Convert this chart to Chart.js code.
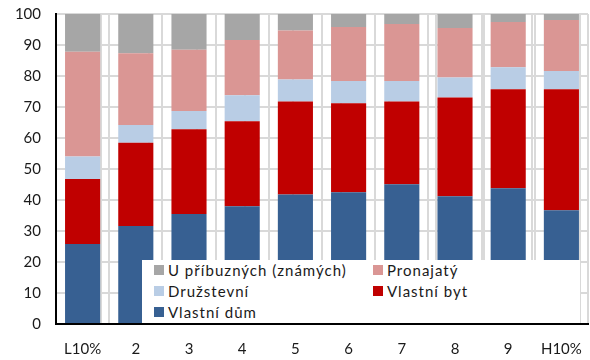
<!DOCTYPE html>
<html>
<head>
<meta charset="utf-8">
<script src="https://cdn.jsdelivr.net/npm/chart.js@4"></script>
<style>
  body { margin: 0; background: #fff; }
  #wrap { position: relative; width: 590px; height: 360px; }
  #legend {
    position: absolute; left: 142px; top: 260px; width: 438px; height: 63px;
    background: #fff; font-family: Lato, "Open Sans", sans-serif; font-size: 15px;
    color: #1a1a1a; letter-spacing: 1px;
  }
  .item { position: absolute; display: flex; align-items: center; height: 20px; white-space: nowrap; }
  .box { width: 10px; height: 10px; margin-right: 4px; }
</style>
</head>
<body>
<div id="wrap">
  <canvas id="chart" width="590" height="360"></canvas>
  <div id="legend"></div>
</div>
<script>
const categories = ["L10%", "2", "3", "4", "5", "6", "7", "8", "9", "H10%"];
const seriesNames = ["Vlastní dům", "Vlastní byt", "Družstevní", "Pronajatý", "U příbuzných (známých)"];
const seriesColors = ["#376092", "#c00000", "#b9cde5", "#da9694", "#a6a6a6"];

const vlastniDum   = [25.8, 31.6, 35.5, 38.0, 41.8, 42.5, 45.1, 41.2, 43.8, 36.7];
const vlastniByt   = [21.0, 26.9, 27.3, 27.4, 30.0, 28.7, 26.7, 31.9, 31.9, 39.0];
const druzstevni   = [7.2, 5.7, 5.9, 8.4, 7.1, 7.2, 6.6, 6.4, 7.1, 5.9];
const pronajaty    = [33.8, 23.1, 19.8, 17.8, 15.8, 17.4, 18.4, 16.0, 14.6, 16.5];
const uPribuznych  = [12.2, 12.7, 11.5, 8.4, 5.3, 4.2, 3.2, 4.5, 2.6, 1.9];

const yTicks = [0, 10, 20, 30, 40, 50, 60, 70, 80, 90, 100];

const seriesValues = [vlastniDum, vlastniByt, druzstevni, pronajaty, uPribuznych];
const gridColor = "#d9d9d9";
const tickFont = { family: "Lato, 'Open Sans', sans-serif", size: 15 };

// fixed scale sizes so the plot area sits where it does in the original
function fitScale(size, isHeight) {
    return s => {
        if (isHeight) s.height = size; else s.width = size;
        s.paddingTop = 0;
        s.paddingBottom = 0;
        s.paddingLeft = 0;
        s.paddingRight = 0;
    };
}

const chart = new Chart(document.getElementById("chart"), {
    type: "bar",
    data: {
        labels: categories,
        datasets: seriesNames.map((name, i) => ({
            label: name,
            data: seriesValues[i],
            backgroundColor: seriesColors[i],
            borderWidth: 0,
            barPercentage: 0.66,
            categoryPercentage: 1
        }))
    },
    options: {
        responsive: false,
        animation: false,
        layout: { padding: { top: 14, right: 2, left: 0, bottom: 0 } },
        plugins: { legend: { display: false }, tooltip: { enabled: false } },
        scales: {
            x: {
                stacked: true,
                grid: { color: gridColor, lineWidth: 2, drawTicks: false },
                border: { color: "#000", width: 2 },
                ticks: { font: tickFont, color: "#1a1a1a", padding: 16 },
                afterFit: fitScale(36, true)
            },
            // second set of vertical lines just left of each category boundary
            x2: {
                type: "linear",
                position: "bottom",
                min: 0.11,
                max: 10.11,
                afterBuildTicks: s => { s.ticks = categories.map((c, i) => ({ value: i + 1 })); },
                grid: { color: gridColor, lineWidth: 2, drawTicks: false },
                border: { display: false },
                ticks: { display: false },
                afterFit: fitScale(0, true)
            },
            y: {
                stacked: true,
                min: 0,
                max: 100,
                afterBuildTicks: s => { s.ticks = yTicks.map(v => ({ value: v })); },
                grid: { color: gridColor, lineWidth: 2, drawTicks: false },
                border: { color: "#000", width: 2 },
                ticks: { font: tickFont, color: "#1a1a1a", padding: 15 },
                afterFit: fitScale(56, false)
            }
        }
    }
});

// legend inside the plot, two columns, top series first
const legend = document.getElementById("legend");
seriesNames.map((name, i) => i).reverse().forEach((idx, n) => {
    const item = document.createElement("div");
    item.className = "item";
    item.style.left = (n % 2 === 0 ? 12 : 231) + "px";
    item.style.top = (Math.floor(n / 2) * 21) + "px";
    item.innerHTML = `<span class="box" style="background:${seriesColors[idx]}"></span>${seriesNames[idx]}`;
    legend.appendChild(item);
});
</script>
</body>
</html>
